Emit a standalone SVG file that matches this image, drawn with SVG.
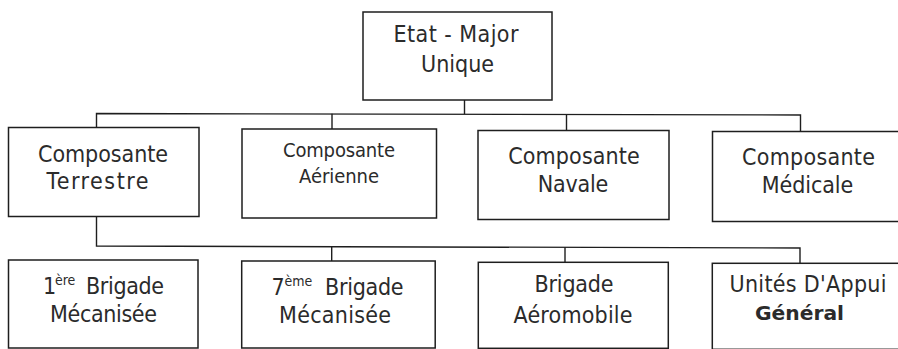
<svg xmlns="http://www.w3.org/2000/svg" width="898" height="349" viewBox="0 0 898 349">
<style>
.box{fill:#fff;stroke:#1e1e1e;stroke-width:1.5}
.ln{fill:none;stroke:#1e1e1e;stroke-width:1.4}
text{font-family:"DejaVu Sans Condensed","DejaVu Sans",sans-serif;fill:#2b2b2b;font-size:23px;text-anchor:middle}
.sm{font-size:20px}
.b{font-weight:bold;font-size:19px}
.sup{font-size:14px;text-anchor:start}
.st{text-anchor:start}
</style>
<rect width="898" height="349" fill="#fff"/>
<g id="connectors">
<polyline class="ln" points="464.5,100 464.5,114"/>
<polyline class="ln" points="96.5,127.5 96.5,113.5 800.5,115 800.5,131.5"/>
<line class="ln" x1="332" y1="113.8" x2="332" y2="129"/>
<line class="ln" x1="566.5" y1="114.5" x2="566.5" y2="130.5"/>
<polyline class="ln" points="96.5,216.5 96.5,246 800,248 800,263.3"/>
<line class="ln" x1="331.7" y1="246.5" x2="331.7" y2="261"/>
<line class="ln" x1="565" y1="247.2" x2="565" y2="262.3"/>
</g>
<g id="etat-major">
<rect class="box" x="363" y="12" width="189" height="88"/>
<text x="456" y="42" textLength="125" lengthAdjust="spacing">Etat - Major</text>
<text x="457.5" y="71.5" textLength="73" lengthAdjust="spacing">Unique</text>
</g>
<g id="terrestre">
<rect class="box" x="8.5" y="127.5" width="190.5" height="89"/>
<text x="103" y="161.5" textLength="130" lengthAdjust="spacing">Composante</text>
<text x="97.5" y="189" textLength="102" lengthAdjust="spacing">Terrestre</text>
</g>
<g id="aerienne">
<rect class="box" x="242" y="129" width="194.5" height="89"/>
<text class="sm" x="339" y="156.5" textLength="112" lengthAdjust="spacing">Composante</text>
<text class="sm" x="339" y="182.5" textLength="80" lengthAdjust="spacing">Aérienne</text>
</g>
<g id="navale">
<rect class="box" x="478" y="130.5" width="191" height="89"/>
<text x="574" y="164" textLength="131.5" lengthAdjust="spacing">Composante</text>
<text x="573" y="191.5" textLength="70.5" lengthAdjust="spacing">Navale</text>
</g>
<g id="medicale">
<rect class="box" x="712.5" y="131.5" width="192" height="90"/>
<text x="808.5" y="165" textLength="133" lengthAdjust="spacing">Composante</text>
<text x="807.5" y="193" textLength="91.5" lengthAdjust="spacing">Médicale</text>
</g>
<g id="brigade1">
<rect class="box" x="8.5" y="260" width="189.5" height="88"/>
<text class="st" x="43" y="294">1<tspan class="sup" x="55" y="285">ère</tspan><tspan x="86" y="294" textLength="78" lengthAdjust="spacing">Brigade</tspan></text>
<text x="103.5" y="322" textLength="107" lengthAdjust="spacing">Mécanisée</text>
</g>
<g id="brigade7">
<rect class="box" x="241.7" y="261" width="193.5" height="87"/>
<text class="st" x="271.5" y="294.5">7<tspan class="sup" x="284.5" y="285.5">ème</tspan><tspan x="325" y="294.5" textLength="78.5" lengthAdjust="spacing">Brigade</tspan></text>
<text x="335" y="322.5" textLength="112" lengthAdjust="spacing">Mécanisée</text>
</g>
<g id="aeromobile">
<rect class="box" x="478.3" y="262.3" width="190" height="86"/>
<text x="574" y="292" textLength="79" lengthAdjust="spacing">Brigade</text>
<text x="573" y="322.5" textLength="119" lengthAdjust="spacing">Aéromobile</text>
</g>
<g id="appui">
<rect class="box" x="712.3" y="263.3" width="192" height="86"/>
<text x="808" y="292" textLength="157" lengthAdjust="spacing">Unités D'Appui</text>
<text class="b" x="799.5" y="320" textLength="89" lengthAdjust="spacingAndGlyphs">Général</text>
</g>
</svg>
